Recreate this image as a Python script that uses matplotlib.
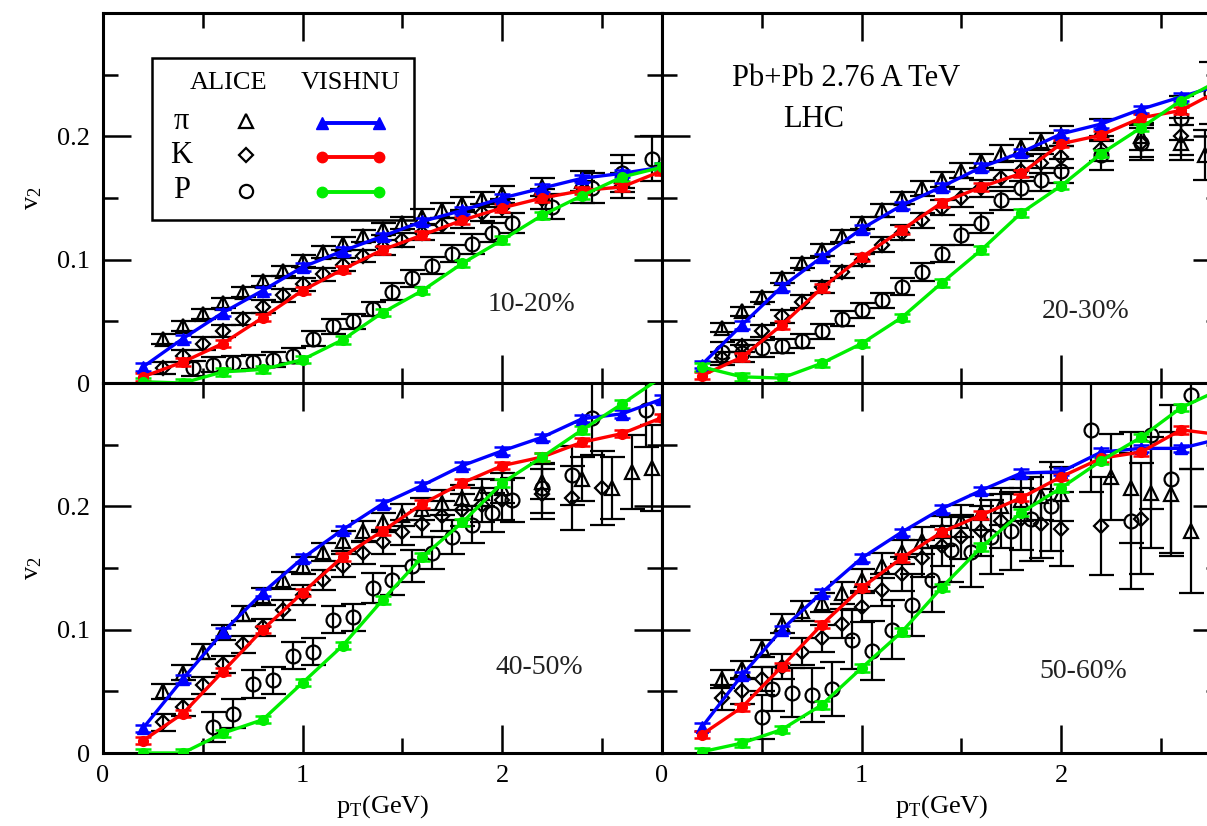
import matplotlib
matplotlib.use("Agg")
import matplotlib.pyplot as plt
from matplotlib.ticker import MultipleLocator, FixedLocator
from matplotlib.patches import Rectangle

plt.rcParams['font.family'] = ['Liberation Serif', 'DejaVu Serif']
plt.rcParams['mathtext.fontset'] = 'custom'
plt.rcParams['mathtext.rm'] = 'Liberation Serif'
plt.rcParams['mathtext.it'] = 'Liberation Serif:italic'

# ---------------- VISHNU hydro curves (pT grid shared by all panels) ----------------
pt_hydro = [0.2, 0.4, 0.6, 0.8, 1.0, 1.2, 1.4, 1.6, 1.8, 2.0, 2.2, 2.4, 2.6, 2.8]
hydro_err = 0.003

pi_hydro_1020 = [0.013, 0.036, 0.057, 0.075, 0.094, 0.107, 0.119, 0.131, 0.140, 0.150, 0.158, 0.166, 0.170, 0.175]
k_hydro_1020 = [0.005, 0.017, 0.032, 0.053, 0.075, 0.092, 0.108, 0.120, 0.132, 0.142, 0.150, 0.156, 0.159, 0.172]
p_hydro_1020 = [0.001, 0.000, 0.009, 0.011, 0.019, 0.035, 0.057, 0.075, 0.097, 0.116, 0.136, 0.152, 0.167, 0.175]

pi_hydro_2030 = [0.015, 0.047, 0.078, 0.102, 0.125, 0.144, 0.159, 0.175, 0.187, 0.202, 0.210, 0.222, 0.232, 0.242]
k_hydro_2030 = [0.006, 0.021, 0.047, 0.077, 0.102, 0.124, 0.146, 0.159, 0.170, 0.194, 0.201, 0.215, 0.221, 0.238]
p_hydro_2030 = [0.013, 0.005, 0.004, 0.016, 0.032, 0.053, 0.081, 0.108, 0.138, 0.160, 0.186, 0.207, 0.229, 0.246]

pi_hydro_4050 = [0.020, 0.060, 0.098, 0.130, 0.158, 0.181, 0.202, 0.217, 0.233, 0.245, 0.256, 0.271, 0.275, 0.287]
k_hydro_4050 = [0.010, 0.032, 0.066, 0.100, 0.130, 0.159, 0.180, 0.202, 0.219, 0.233, 0.240, 0.252, 0.259, 0.272]
p_hydro_4050 = [0.000, 0.000, 0.016, 0.027, 0.057, 0.087, 0.124, 0.159, 0.187, 0.219, 0.240, 0.262, 0.283, 0.305]

pi_hydro_5060 = [0.021, 0.063, 0.100, 0.130, 0.158, 0.179, 0.198, 0.213, 0.227, 0.228, 0.244, 0.247, 0.247, 0.255]
k_hydro_5060 = [0.015, 0.037, 0.070, 0.104, 0.134, 0.158, 0.179, 0.193, 0.207, 0.224, 0.239, 0.244, 0.262, 0.258]
p_hydro_5060 = [0.001, 0.008, 0.019, 0.039, 0.069, 0.098, 0.134, 0.167, 0.195, 0.215, 0.237, 0.256, 0.280, 0.295]

# ---------------- ALICE measurements ----------------
# 10-20%
pi_pt_1020 = [0.3, 0.4, 0.5, 0.6, 0.7, 0.8, 0.9, 1.0, 1.1, 1.2, 1.3, 1.4, 1.5, 1.6, 1.7, 1.8, 1.9, 2.0, 2.2, 2.4, 2.6]
pi_v2_1020 = [0.036, 0.046, 0.056, 0.065, 0.074, 0.083, 0.091, 0.099, 0.106, 0.113, 0.119, 0.125, 0.130, 0.135, 0.140, 0.145, 0.149, 0.153, 0.159, 0.164, 0.168]
pi_err_1020 = [0.004, 0.004, 0.004, 0.004, 0.004, 0.004, 0.004, 0.005, 0.005, 0.005, 0.005, 0.005, 0.005, 0.006, 0.006, 0.006, 0.006, 0.007, 0.007, 0.008, 0.010]
k_pt_1020 = [0.3, 0.4, 0.5, 0.6, 0.7, 0.8, 0.9, 1.0, 1.1, 1.2, 1.3, 1.4, 1.5, 1.6, 1.7, 1.8, 1.9, 2.0, 2.2, 2.4, 2.6]
k_v2_1020 = [0.012, 0.022, 0.032, 0.042, 0.052, 0.062, 0.071, 0.080, 0.088, 0.096, 0.103, 0.110, 0.116, 0.122, 0.128, 0.133, 0.138, 0.142, 0.149, 0.155, 0.160]
k_err_1020 = [0.005, 0.005, 0.005, 0.005, 0.005, 0.005, 0.005, 0.005, 0.005, 0.005, 0.005, 0.006, 0.006, 0.006, 0.006, 0.007, 0.007, 0.007, 0.008, 0.009, 0.010]
p_pt_1020 = [0.45, 0.55, 0.65, 0.75, 0.85, 0.95, 1.05, 1.15, 1.25, 1.35, 1.45, 1.55, 1.65, 1.75, 1.85, 1.95, 2.05, 2.25, 2.45, 2.6, 2.75]
p_v2_1020 = [0.012, 0.015, 0.016, 0.017, 0.019, 0.022, 0.036, 0.046, 0.050, 0.060, 0.074, 0.085, 0.095, 0.105, 0.113, 0.122, 0.130, 0.143, 0.158, 0.170, 0.182]
p_err_1020 = [0.006, 0.006, 0.006, 0.006, 0.006, 0.006, 0.006, 0.006, 0.006, 0.006, 0.007, 0.007, 0.007, 0.007, 0.008, 0.008, 0.008, 0.010, 0.012, 0.015, 0.018]

# 20-30%
pi_pt_2030 = [0.3, 0.4, 0.5, 0.6, 0.7, 0.8, 0.9, 1.0, 1.1, 1.2, 1.3, 1.4, 1.5, 1.6, 1.7, 1.8, 1.9, 2.0, 2.2, 2.4, 2.6, 2.72]
pi_v2_2030 = [0.045, 0.058, 0.070, 0.085, 0.097, 0.108, 0.119, 0.130, 0.140, 0.150, 0.158, 0.165, 0.172, 0.180, 0.186, 0.191, 0.196, 0.200, 0.205, 0.200, 0.195, 0.185]
pi_err_2030 = [0.004, 0.004, 0.004, 0.004, 0.004, 0.005, 0.005, 0.005, 0.005, 0.005, 0.006, 0.006, 0.006, 0.006, 0.007, 0.007, 0.007, 0.008, 0.009, 0.011, 0.014, 0.020]
k_pt_2030 = [0.3, 0.4, 0.5, 0.6, 0.7, 0.8, 0.9, 1.0, 1.1, 1.2, 1.3, 1.4, 1.5, 1.6, 1.7, 1.8, 1.9, 2.0, 2.2, 2.4, 2.6]
k_v2_2030 = [0.020, 0.030, 0.042, 0.054, 0.066, 0.078, 0.090, 0.100, 0.112, 0.122, 0.132, 0.142, 0.150, 0.158, 0.166, 0.172, 0.178, 0.183, 0.190, 0.195, 0.200]
k_err_2030 = [0.005, 0.005, 0.005, 0.005, 0.005, 0.005, 0.005, 0.005, 0.006, 0.006, 0.006, 0.006, 0.007, 0.007, 0.007, 0.008, 0.008, 0.009, 0.010, 0.012, 0.015]
p_pt_2030 = [0.3, 0.4, 0.5, 0.6, 0.7, 0.8, 0.9, 1.0, 1.1, 1.2, 1.3, 1.4, 1.5, 1.6, 1.7, 1.8, 1.9, 2.0, 2.2, 2.4, 2.6, 2.75]
p_v2_2030 = [0.025, 0.024, 0.028, 0.030, 0.034, 0.042, 0.052, 0.059, 0.067, 0.078, 0.090, 0.105, 0.120, 0.130, 0.148, 0.158, 0.165, 0.172, 0.185, 0.195, 0.215, 0.235]
p_err_2030 = [0.008, 0.007, 0.007, 0.006, 0.006, 0.006, 0.006, 0.006, 0.006, 0.007, 0.007, 0.007, 0.008, 0.008, 0.008, 0.009, 0.009, 0.010, 0.012, 0.014, 0.018, 0.025]

# 40-50%
pi_pt_4050 = [0.3, 0.4, 0.5, 0.6, 0.7, 0.8, 0.9, 1.0, 1.1, 1.2, 1.3, 1.4, 1.5, 1.6, 1.7, 1.8, 1.9, 2.0, 2.2, 2.4, 2.55, 2.65, 2.75]
pi_v2_4050 = [0.050, 0.065, 0.082, 0.098, 0.113, 0.127, 0.140, 0.152, 0.163, 0.172, 0.180, 0.187, 0.193, 0.198, 0.203, 0.207, 0.211, 0.215, 0.220, 0.222, 0.215, 0.228, 0.231]
pi_err_4050 = [0.006, 0.006, 0.006, 0.006, 0.006, 0.007, 0.007, 0.007, 0.007, 0.008, 0.008, 0.008, 0.009, 0.009, 0.010, 0.010, 0.011, 0.012, 0.014, 0.018, 0.025, 0.030, 0.035]
k_pt_4050 = [0.3, 0.4, 0.5, 0.6, 0.7, 0.8, 0.9, 1.0, 1.1, 1.2, 1.3, 1.4, 1.5, 1.6, 1.7, 1.8, 1.9, 2.0, 2.2, 2.35, 2.5]
k_v2_4050 = [0.025, 0.037, 0.055, 0.072, 0.088, 0.102, 0.116, 0.128, 0.140, 0.152, 0.162, 0.171, 0.179, 0.186, 0.192, 0.197, 0.201, 0.205, 0.210, 0.207, 0.215]
k_err_4050 = [0.007, 0.007, 0.007, 0.007, 0.007, 0.007, 0.008, 0.008, 0.008, 0.009, 0.009, 0.010, 0.010, 0.011, 0.012, 0.013, 0.014, 0.016, 0.020, 0.026, 0.030]
p_pt_4050 = [0.55, 0.65, 0.75, 0.85, 0.95, 1.05, 1.15, 1.25, 1.35, 1.45, 1.55, 1.65, 1.75, 1.85, 1.95, 2.05, 2.2, 2.35, 2.45, 2.72]
p_v2_4050 = [0.021, 0.032, 0.056, 0.059, 0.079, 0.082, 0.108, 0.110, 0.134, 0.140, 0.152, 0.162, 0.175, 0.185, 0.195, 0.205, 0.215, 0.225, 0.272, 0.278]
p_err_4050 = [0.012, 0.012, 0.011, 0.011, 0.011, 0.011, 0.011, 0.011, 0.012, 0.012, 0.013, 0.013, 0.014, 0.015, 0.016, 0.018, 0.020, 0.024, 0.030, 0.030]

# 50-60%
pi_pt_5060 = [0.3, 0.4, 0.5, 0.6, 0.7, 0.8, 0.9, 1.0, 1.1, 1.2, 1.3, 1.4, 1.5, 1.6, 1.7, 1.8, 1.9, 2.0, 2.25, 2.35, 2.45, 2.55, 2.65]
pi_v2_5060 = [0.060, 0.068, 0.085, 0.105, 0.115, 0.122, 0.130, 0.140, 0.152, 0.163, 0.172, 0.180, 0.188, 0.195, 0.200, 0.205, 0.208, 0.210, 0.224, 0.215, 0.211, 0.210, 0.180]
pi_err_5060 = [0.007, 0.007, 0.007, 0.008, 0.008, 0.008, 0.009, 0.009, 0.010, 0.010, 0.011, 0.012, 0.013, 0.014, 0.015, 0.017, 0.019, 0.022, 0.035, 0.045, 0.045, 0.050, 0.050]
k_pt_5060 = [0.3, 0.4, 0.5, 0.6, 0.7, 0.8, 0.9, 1.0, 1.1, 1.2, 1.3, 1.4, 1.5, 1.6, 1.7, 1.8, 1.9, 2.0, 2.2, 2.4]
k_v2_5060 = [0.045, 0.050, 0.060, 0.070, 0.082, 0.093, 0.105, 0.118, 0.132, 0.145, 0.158, 0.168, 0.175, 0.180, 0.188, 0.190, 0.186, 0.182, 0.184, 0.190]
k_err_5060 = [0.010, 0.010, 0.010, 0.010, 0.011, 0.011, 0.012, 0.012, 0.013, 0.014, 0.015, 0.016, 0.018, 0.020, 0.022, 0.025, 0.028, 0.030, 0.040, 0.045]
p_pt_5060 = [0.5, 0.55, 0.65, 0.75, 0.85, 0.95, 1.05, 1.15, 1.25, 1.35, 1.45, 1.55, 1.65, 1.75, 1.85, 1.95, 2.15, 2.35, 2.45, 2.55, 2.65]
p_v2_5060 = [0.029, 0.052, 0.049, 0.047, 0.052, 0.092, 0.083, 0.100, 0.120, 0.140, 0.165, 0.163, 0.175, 0.180, 0.190, 0.200, 0.262, 0.188, 0.258, 0.222, 0.290]
p_err_5060 = [0.018, 0.018, 0.020, 0.022, 0.022, 0.024, 0.024, 0.024, 0.025, 0.026, 0.026, 0.028, 0.030, 0.032, 0.034, 0.036, 0.050, 0.055, 0.060, 0.060, 0.060]

centralities = ["10-20%", "20-30%", "40-50%", "50-60%"]
pt_ticks = [0, 1, 2]
v2_ticks = [0, 0.1, 0.2]

# ---------------- layout ----------------
W_PX, H_PX = 1207, 826
fig = plt.figure(figsize=(W_PX / 100, H_PX / 100), dpi=100)

def ax_rect(x0, y_top, w, h):
    return [x0 / W_PX, 1 - (y_top + h) / H_PX, w / W_PX, h / H_PX]

panel_w, panel_h = 559, 370
ax_tl = fig.add_axes(ax_rect(103, 13, panel_w, panel_h))
ax_tr = fig.add_axes(ax_rect(662, 13, panel_w, panel_h))
ax_bl = fig.add_axes(ax_rect(103, 383, panel_w, panel_h))
ax_br = fig.add_axes(ax_rect(662, 383, panel_w, panel_h))
axes = [ax_tl, ax_tr, ax_bl, ax_br]

panel_data = [
    (pi_hydro_1020, k_hydro_1020, p_hydro_1020,
     (pi_pt_1020, pi_v2_1020, pi_err_1020), (k_pt_1020, k_v2_1020, k_err_1020), (p_pt_1020, p_v2_1020, p_err_1020)),
    (pi_hydro_2030, k_hydro_2030, p_hydro_2030,
     (pi_pt_2030, pi_v2_2030, pi_err_2030), (k_pt_2030, k_v2_2030, k_err_2030), (p_pt_2030, p_v2_2030, p_err_2030)),
    (pi_hydro_4050, k_hydro_4050, p_hydro_4050,
     (pi_pt_4050, pi_v2_4050, pi_err_4050), (k_pt_4050, k_v2_4050, k_err_4050), (p_pt_4050, p_v2_4050, p_err_4050)),
    (pi_hydro_5060, k_hydro_5060, p_hydro_5060,
     (pi_pt_5060, pi_v2_5060, pi_err_5060), (k_pt_5060, k_v2_5060, k_err_5060), (p_pt_5060, p_v2_5060, p_err_5060)),
]

BLUE, RED, GREEN = "#0000ff", "#ff0000", "#00ee00"
data_style = dict(color="black", mfc="none", mec="black", mew=1.6, ls="none",
                  elinewidth=1.6, capsize=9, capthick=1.6, zorder=2)
hydro_style = dict(lw=2.4, elinewidth=1.8, capsize=6, capthick=1.8, zorder=3)

label_pos = [(0.767, 0.211), (0.757, 0.192), (0.78, 0.232), (0.753, 0.219)]

for ax, (pi_h, k_h, p_h, pi_d, k_d, p_d), cent, lpos in zip(axes, panel_data, centralities, label_pos):
    ax.errorbar(pi_d[0], pi_d[1], yerr=pi_d[2], marker="^", ms=10, **data_style)
    ax.errorbar(k_d[0], k_d[1], yerr=k_d[2], marker="D", ms=7, **data_style)
    ax.errorbar(p_d[0], p_d[1], yerr=p_d[2], marker="o", ms=10, **data_style)

    ax.errorbar(pt_hydro, pi_h, yerr=hydro_err, color=BLUE, marker="^", ms=8.5, **hydro_style)
    ax.errorbar(pt_hydro, k_h, yerr=hydro_err, color=RED, marker="o", ms=7, **hydro_style)
    ax.errorbar(pt_hydro, p_h, yerr=hydro_err, color=GREEN, marker="o", ms=7, **hydro_style)

    ax.set_xlim(0, 2.8)
    ax.set_ylim(0, 0.3)
    ax.xaxis.set_major_locator(FixedLocator(pt_ticks))
    ax.xaxis.set_minor_locator(MultipleLocator(0.5))
    ax.yaxis.set_major_locator(FixedLocator(v2_ticks))
    ax.yaxis.set_minor_locator(MultipleLocator(0.05))
    ax.tick_params(which="both", direction="in", top=True, right=True, width=1.8,
                   labelsize=19, pad=9)
    ax.tick_params(which="major", length=20)
    ax.tick_params(which="minor", length=11)
    for sp in ax.spines.values():
        sp.set_linewidth(2.2)
    ax.yaxis.set_major_formatter(plt.FuncFormatter(lambda v, _: "0" if v == 0 else f"{v:.1f}"))

    ax.text(lpos[0], lpos[1], cent, transform=ax.transAxes, ha="center", va="center",
            fontsize=20, color="#222222")

# tick labels only on outer edges
ax_tl.tick_params(labelbottom=False)
ax_tr.tick_params(labelbottom=False, labelleft=False)
ax_br.tick_params(labelleft=False)

for ax in (ax_tl, ax_bl):
    ax.set_ylabel(r"$\mathrm{v}_2$", fontsize=19, labelpad=10)
for ax in (ax_bl, ax_br):
    ax.set_xlabel(r"$\mathrm{p_T}$(GeV)", fontsize=19, labelpad=4)

ax_tr.text(0.329, 0.824, "Pb+Pb 2.76 A TeV", transform=ax_tr.transAxes,
           ha="center", va="center", fontsize=22)
ax_tr.text(0.272, 0.711, "LHC", transform=ax_tr.transAxes,
           ha="center", va="center", fontsize=22)

# legend box drawn by hand: ALICE symbols and VISHNU curves side by side
tr = ax_tl.transAxes
ax_tl.add_patch(Rectangle((0.0877, 0.4405), 0.468, 0.4375, transform=tr,
                          fill=False, lw=1.8, ec="black", zorder=5))
ax_tl.text(0.224, 0.812, "ALICE", transform=tr, ha="center", va="center", fontsize=19, zorder=6)
ax_tl.text(0.442, 0.810, "VISHNU", transform=tr, ha="center", va="center", fontsize=19, zorder=6)
rows = [(0.708, r"$\mathrm{\pi}$", "^", 10, BLUE), (0.615, "K", "D", 7, RED), (0.520, "P", "o", 9.5, GREEN)]
for y, name, mk, ms, col in rows:
    ax_tl.text(0.140, y, name, transform=tr, ha="center", va="center", fontsize=22, zorder=6)
    ax_tl.plot([0.256], [y], transform=tr, marker=mk, ms=ms, mfc="none", mec="black",
               mew=1.6, ls="none", zorder=6)
    ax_tl.plot([0.392, 0.494], [y - 0.005, y - 0.005], transform=tr, color=col, lw=2.8,
               marker="^" if mk == "^" else "o", ms=9 if mk == "^" else 7.5, zorder=6)

fig.savefig("out.png", dpi=100)
